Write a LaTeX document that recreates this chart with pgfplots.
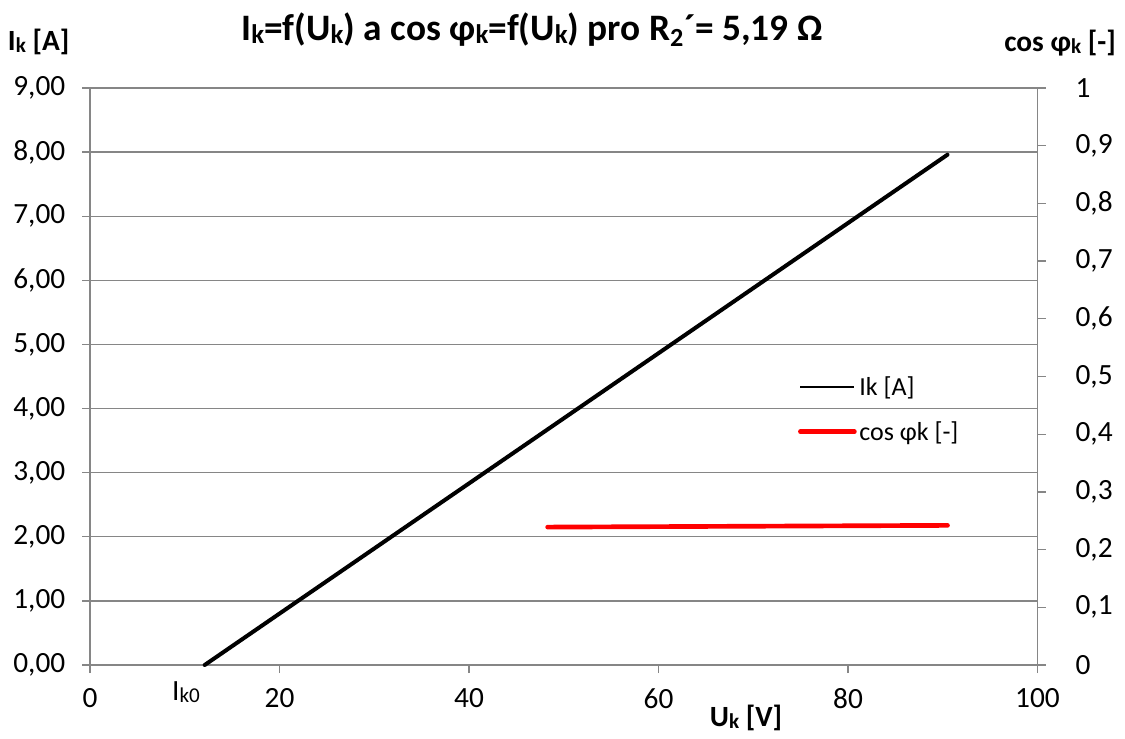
\documentclass[border=0pt]{standalone}
\usepackage{pgfplots}
\pgfplotsset{compat=1.18}
\usepackage{fontspec}
\setmainfont{Carlito}
\definecolor{axgray}{RGB}{134,134,134}
\definecolor{exred}{RGB}{255,0,0}
\newcommand{\ks}{\raisebox{-0.12ex}{\scalebox{0.72}{k}}}
\pgfplotsset{mylegline/.style={legend image code/.code={\draw[##1] (0pt,0pt) -- (40.5pt,0pt);}}}
\begin{document}
\begin{tikzpicture}
\pgfplotsset{
  every axis/.append style={
    scale only axis, width=710.6pt, height=432.75pt,
    xmin=0, xmax=100, clip=false,
    tick align=outside, major tick length=6pt,
    every tick/.style={axgray, line width=1pt},
    axis line style={axgray, line width=1pt},
    tick label style={font=\fontsize{22}{24}\selectfont, black},
    /pgf/number format/assume math mode=true,
  }
}
\begin{axis}[name=ax,
  axis x line*=bottom, axis y line*=left,
  ymin=0, ymax=9,
  xtick={0,20,40,60,80,100},
  ytick={0,1,2,3,4,5,6,7,8,9},
  ymajorgrids, grid style={axgray, line width=1pt},
  yticklabel style={xshift=-9pt, /pgf/number format/.cd, fixed, fixed zerofill, precision=2, use comma},
  xticklabel style={yshift=-8pt, /pgf/number format/.cd, fixed, use comma},
]
\addplot[black, line width=3pt, line cap=round] coordinates {(12.1,0) (90.5,7.96)};
\end{axis}
\begin{axis}[
  axis x line=none, axis y line*=right,
  ymin=0, ymax=1,
  ytick={0,0.1,0.2,0.3,0.4,0.5,0.6,0.7,0.8,0.9,1},
  yticklabel style={xshift=19pt, /pgf/number format/.cd, fixed, precision=1, use comma},
  legend style={draw=none, fill=none, at={(0.747,0.505)}, anchor=north west,
    font=\fontsize{19.5}{22}\selectfont, row sep=14pt, inner sep=0pt,
    legend cell align=left},
]
\addlegendimage{black, line width=1.1pt, mylegline}
\addlegendentry{Ik [A]}
\addplot[exred, line width=3.5pt, line cap=round, mylegline] coordinates {(48.3,0.239) (90.5,0.242)};
\addlegendentry{cos φk [-]}
\end{axis}
\node[font=\fontsize{28}{32}\selectfont\bfseries] at ([shift={(331.5pt,476.25pt)}]ax.south west)
  {I\ks=f(U\ks) a cos φ\ks=f(U\ks) pro R\textsubscript{2}´= 5,19 Ω};
\node[font=\fontsize{22}{24}\selectfont\bfseries] at ([shift={(-38.5pt,467.25pt)}]ax.south west) {I\ks{} [A]};
\node[font=\fontsize{22}{24}\selectfont\bfseries] at ([shift={(727.5pt,466.5pt)}]ax.south west) {cos φ\ks{} [-]};
\node[font=\fontsize{22}{24}\selectfont\bfseries] at ([shift={(492pt,-39.75pt)}]ax.south west) {U\ks{} [V]};
\node[font=\fontsize{22}{24}\selectfont] at ([shift={(72pt,-20.25pt)}]ax.south west) {I\raisebox{-0.12ex}{\scalebox{0.72}{k0}}};
\pgfresetboundingbox
\path ([shift={(-67.5pt,-54.75pt)}]ax.south west) rectangle ([shift={(65.6pt,66pt)}]ax.north east);
\end{tikzpicture}
\end{document}
